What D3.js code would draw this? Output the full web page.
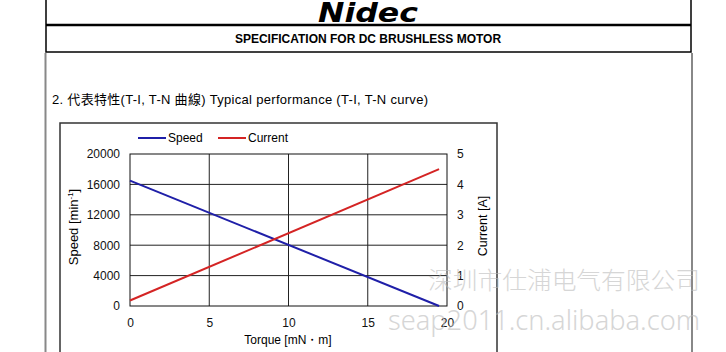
<!DOCTYPE html>
<html>
<head>
<meta charset="utf-8">
<script src="https://cdn.jsdelivr.net/npm/d3@7"></script>
<style>
body { margin: 0; background: #fff; }
svg { display: block; font-family: Arial, "Liberation Sans", sans-serif; }
.axis path, .axis line { display: none; }
.axis text { font-size: 12px; fill: #111; }
</style>
</head>
<body>
<div id="chart"></div>
<script>
// data
const torque = [0, 19.5]
const speed = [16500, 0]
const current = [0.18, 4.5]

const xTicks = [0, 5, 10, 15, 20]
const speedTicks = [0, 4000, 8000, 12000, 16000, 20000]
const currentTicks = [0, 1, 2, 3, 4, 5]

const W = 726, H = 352
const plot = { left: 130, right: 447, top: 154, bottom: 306 }

const svg = d3.select('#chart').append('svg')
    .attr('width', W)
    .attr('height', H)

// page frame
svg.append('rect').attr('x', 46).attr('y', -2).attr('width', 645).attr('height', 54)
    .attr('fill', 'none').attr('stroke', '#000').attr('stroke-width', 1.5)
svg.append('line').attr('x1', 46).attr('x2', 691).attr('y1', 25).attr('y2', 25)
    .attr('stroke', '#000').attr('stroke-width', 2.5)
svg.append('line').attr('x1', 45.5).attr('x2', 45.5).attr('y1', 53).attr('y2', H)
    .attr('stroke', '#888').attr('stroke-width', 2)
svg.append('line').attr('x1', 692).attr('x2', 692).attr('y1', 53).attr('y2', H)
    .attr('stroke', '#888').attr('stroke-width', 2)

svg.append('text')
    .attr('x', 318).attr('y', 22)
    .attr('textLength', 100).attr('lengthAdjust', 'spacingAndGlyphs')
    .style('font-size', '27px').style('font-weight', 900).style('font-style', 'italic')
    .style('font-family', '"DejaVu Sans", Arial, sans-serif')
    .text('Nidec')

svg.append('text')
    .attr('x', 368).attr('y', 43)
    .attr('text-anchor', 'middle')
    .style('font-size', '12px').style('font-weight', 'bold')
    .text('SPECIFICATION FOR DC BRUSHLESS MOTOR')

svg.append('text')
    .attr('x', 52).attr('y', 104)
    .attr('textLength', 376).attr('lengthAdjust', 'spacing')
    .style('font-size', '13px')
    .style('font-family', 'Arial, "Liberation Sans", "Noto Sans CJK TC", sans-serif')
    .text('2. 代表特性(T-I, T-N 曲線) Typical performance (T-I, T-N curve)')

// chart box
svg.append('rect').attr('x', 60).attr('y', 123).attr('width', 437).attr('height', 240)
    .attr('fill', '#fff').attr('stroke', '#333').attr('stroke-width', 1.5)

const x = d3.scaleLinear().domain([0, 20]).range([plot.left, plot.right])
const yL = d3.scaleLinear().domain([0, 20000]).range([plot.bottom, plot.top])
const yR = d3.scaleLinear().domain([0, 5]).range([plot.bottom, plot.top])

const g = svg.append('g')

// grid
g.selectAll('.vgrid').data(xTicks.slice(1, -1)).enter().append('line')
    .attr('x1', d => x(d)).attr('x2', d => x(d))
    .attr('y1', plot.top).attr('y2', plot.bottom)
    .attr('stroke', '#222').attr('stroke-width', 1)
g.selectAll('.hgrid').data(speedTicks.slice(1, -1)).enter().append('line')
    .attr('x1', plot.left).attr('x2', plot.right)
    .attr('y1', d => yL(d)).attr('y2', d => yL(d))
    .attr('stroke', '#222').attr('stroke-width', 1)
g.append('rect')
    .attr('x', plot.left).attr('y', plot.top)
    .attr('width', plot.right - plot.left).attr('height', plot.bottom - plot.top)
    .attr('fill', 'none').attr('stroke', '#111').attr('stroke-width', 1)

// axes
svg.append('g').attr('class', 'axis')
    .attr('transform', `translate(0,${plot.bottom + 10})`)
    .call(d3.axisBottom(x).tickValues(xTicks).tickFormat(d3.format('d')).tickSize(0).tickPadding(2))
svg.append('g').attr('class', 'axis')
    .attr('transform', `translate(${plot.left - 10},0)`)
    .call(d3.axisLeft(yL).tickValues(speedTicks).tickFormat(d3.format('d')).tickSize(0).tickPadding(0))
svg.append('g').attr('class', 'axis')
    .attr('transform', `translate(${plot.right + 10},0)`)
    .call(d3.axisRight(yR).tickValues(currentTicks).tickFormat(d3.format('d')).tickSize(0).tickPadding(0))

// axis titles
const sp = svg.append('text')
    .attr('transform', 'translate(78,227) rotate(-90)')
    .attr('text-anchor', 'middle')
    .style('font-size', '13px')
sp.append('tspan').text('Speed [min')
sp.append('tspan').attr('dy', -5).style('font-size', '8px').text('-1')
sp.append('tspan').attr('dy', 5).text(']')

svg.append('text')
    .attr('transform', 'translate(487,226) rotate(-90)')
    .attr('text-anchor', 'middle')
    .style('font-size', '12.5px')
    .text('Current [A]')

svg.append('text')
    .attr('x', 288).attr('y', 344)
    .attr('text-anchor', 'middle')
    .style('font-size', '12px')
    .text('Torque [mN・m]')

// series
const speedData = torque.map((t, i) => ({ t, v: speed[i] }))
const currentData = torque.map((t, i) => ({ t, v: current[i] }))

g.append('path').datum(speedData)
    .attr('d', d3.line().x(d => x(d.t)).y(d => yL(d.v)))
    .attr('fill', 'none').attr('stroke', '#1f1fa8').attr('stroke-width', 2)
g.append('path').datum(currentData)
    .attr('d', d3.line().x(d => x(d.t)).y(d => yR(d.v)))
    .attr('fill', 'none').attr('stroke', '#d42424').attr('stroke-width', 2)

// legend
const legendItems = [
    { name: 'Speed', color: '#1f1fa8', x: 138 },
    { name: 'Current', color: '#d42424', x: 218 }
]
const legend = svg.selectAll('.legend').data(legendItems).enter().append('g')
    .attr('transform', d => `translate(${d.x},138)`)
legend.append('line').attr('x1', 0).attr('x2', 28)
    .attr('stroke', d => d.color).attr('stroke-width', 2)
legend.append('text').attr('x', 30).attr('dy', '0.35em')
    .style('font-size', '12px').text(d => d.name)

// watermark
svg.append('text')
    .attr('x', 428).attr('y', 289)
    .attr('textLength', 272).attr('lengthAdjust', 'spacingAndGlyphs')
    .style('font-size', '24px').style('fill', '#bbb').style('opacity', 0.6)
    .style('font-family', '"Noto Sans CJK SC", sans-serif').style('font-weight', 300)
    .text('深圳市仕浦电气有限公司')
svg.append('text')
    .attr('x', 388).attr('y', 330)
    .attr('textLength', 312).attr('lengthAdjust', 'spacingAndGlyphs')
    .style('font-size', '28px').style('fill', '#bbb').style('opacity', 0.6)
    .style('font-family', '"Noto Sans", sans-serif').style('font-weight', 300)
    .text('seap2011.cn.alibaba.com')
</script>
</body>
</html>
